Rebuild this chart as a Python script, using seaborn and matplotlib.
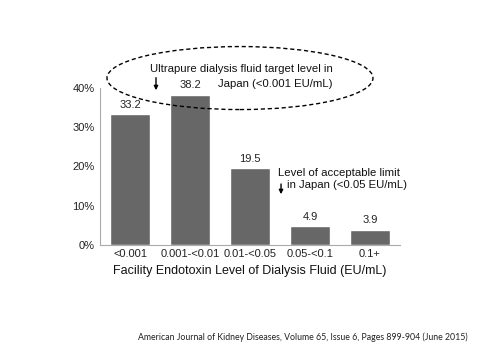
import matplotlib
matplotlib.use("Agg")
import matplotlib.pyplot as plt
from matplotlib.patches import Ellipse
import seaborn as sns
import pandas as pd

sns.set_style("white")
plt.rcParams["font.family"] = ["Liberation Sans", "DejaVu Sans"]

levels = ["<0.001", "0.001-<0.01", "0.01-<0.05", "0.05-<0.1", "0.1+"]
share = [33.2, 38.2, 19.5, 4.9, 3.9]
yticks = [0, 10, 20, 30, 40]

df = pd.DataFrame({"level": levels, "share": share})

fig = plt.figure(figsize=(4.8, 3.6), dpi=100)
ax = fig.add_axes([100 / 480, 1 - 245 / 360, 300 / 480, 157.5 / 360])

sns.barplot(data=df, x="level", y="share", color="#676767", saturation=1,
            width=0.667, ax=ax)

for i, v in enumerate(share):
    ax.annotate(f"{v}", (i, v), xytext=(0, 3), textcoords="offset points",
                ha="center", va="bottom", fontsize=8, color="#222222")

ax.set_xlim(-0.5, 4.5)
ax.set_ylim(0, 40)
ax.set_yticks(yticks)
ax.set_yticklabels([f"{t}%" for t in yticks])
ax.set_xticks([i + 0.5 for i in range(-1, 5)], minor=True)
ax.tick_params(axis="x", which="major", length=0, pad=3, labelsize=8, colors="#222222")
ax.tick_params(axis="x", which="minor", length=2, color="#aaaaaa", direction="out")
ax.tick_params(axis="y", length=2, width=0.8, color="#aaaaaa", direction="out",
               pad=2, labelsize=8, labelcolor="#222222")
ax.set_xlabel("Facility Endotoxin Level of Dialysis Fluid (EU/mL)", fontsize=9,
              labelpad=4, color="#111111")
ax.set_ylabel("")

sns.despine(ax=ax)
for s in ["left", "bottom"]:
    ax.spines[s].set_color("#aaaaaa")
    ax.spines[s].set_linewidth(0.8)

ell = Ellipse((1.833, 42.4), 4.433, 16.0, fill=False, edgecolor="black",
              linestyle=(0, (3, 2)), linewidth=1.0, clip_on=False)
ax.add_patch(ell)

ax.text(3.383, 44.7, "Ultrapure dialysis fluid target level in", ha="right",
        va="center", fontsize=8.2, color="#111111", clip_on=False)
ax.text(3.383, 40.9, "Japan (<0.001 EU/mL)", ha="right", va="center",
        fontsize=8.2, color="#111111", clip_on=False)
ax.annotate("", xy=(0.433, 38.6), xytext=(0.433, 43.2),
            arrowprops=dict(arrowstyle="-|>", color="black", lw=1,
                            mutation_scale=6), annotation_clip=False)

ax.text(2.467, 18.3, "Level of acceptable limit", ha="left", va="center",
        fontsize=8.2, color="#111111")
ax.text(2.617, 15.2, "in Japan (<0.05 EU/mL)", ha="left", va="center",
        fontsize=8.2, color="#111111")
ax.annotate("", xy=(2.517, 12.2), xytext=(2.517, 16.2),
            arrowprops=dict(arrowstyle="-|>", color="black", lw=1,
                            mutation_scale=6))

fig.text(0.5 * (137 + 468) / 480, 1 - 337 / 360,
         "American Journal of Kidney Diseases, Volume 65, Issue 6, Pages 899-904 (June 2015)",
         ha="center", va="center", fontsize=6.3, family=["Lato", "DejaVu Sans"],
         color="#222222")

fig.savefig("out.png", dpi=100)
